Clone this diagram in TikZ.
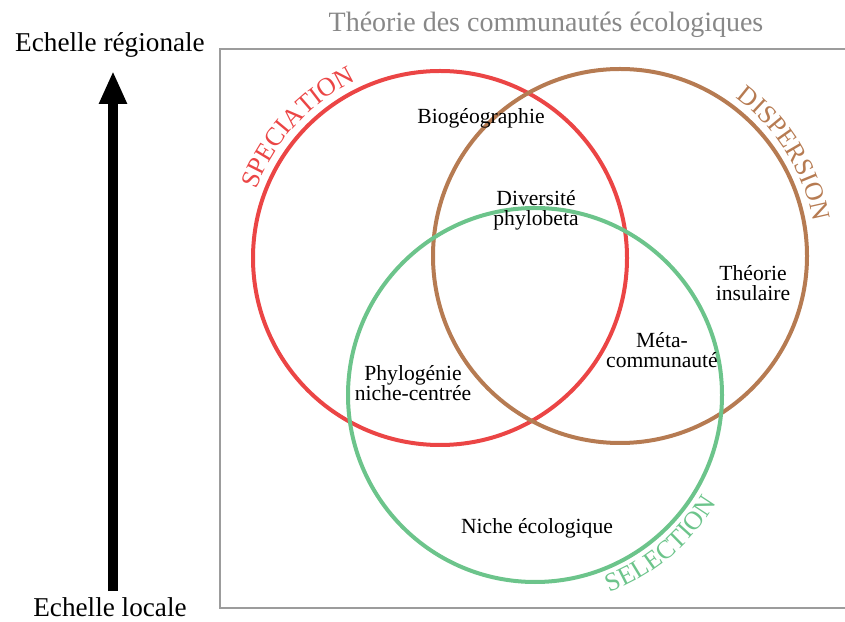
\documentclass[tikz,border=0pt]{standalone}
\usepackage{fontspec}
\setmainfont{Liberation Serif}
\usetikzlibrary{arrows.meta,decorations.text}
\definecolor{specred}{HTML}{EB4545}
\definecolor{dispbrown}{HTML}{B67B52}
\definecolor{selgreen}{HTML}{6CC48B}
\definecolor{framegray}{HTML}{9C9C9C}
\definecolor{titlegray}{HTML}{888888}
\tikzset{
  zone/.style={align=center, font=\fontsize{10.8}{10}\selectfont},
  echelle/.style={font=\fontsize{13.6}{16}\selectfont},
  ring/.style={circle, draw, line width=2pt, minimum size=187pt, inner sep=0pt},
  curved/.style={decorate, decoration={text along path, text align=center,
    text color=#1, text={|\fontsize{13}{13}\selectfont|}}},
}
\begin{document}
\begin{tikzpicture}[x=0.5pt,y=0.5pt]
  \useasboundingbox (0,0) rectangle (845,621);
  % cadre
  \draw[framegray, line width=1pt] (845,572) -- (220,572) -- (220,13) -- (845,13);
  \node[titlegray, font=\fontsize{14}{16}\selectfont] (titre) at (546,596)
    {Théorie des communautés écologiques};
  % echelle
  \node[echelle] (regionale) at (110,576) {Echelle régionale};
  \node[echelle] (locale) at (110,14) {Echelle locale};
  \coordinate (bas) at (113,30);
  \coordinate (haut) at (113,550);
  \draw[line width=5pt, -{Triangle[length=16.5pt,width=13pt]}] (bas) -- (haut);
  % cercles
  \node[ring, specred] (spec) at (440,363) {};
  \node[ring, dispbrown] (disp) at (620,365) {};
  \node[ring, selgreen] (sel) at (535,226) {};
  \begin{scope}[decoration={text along path, text align=center}]
    \path[decorate, decoration={text color=specred,
      text={|\fontsize{13}{13}\selectfont|SPECIATION}}]
      ([shift={(180:98pt)}]spec.center) arc[start angle=180, end angle=95, radius=98pt];
    \path[decorate, decoration={text color=dispbrown,
      text={|\fontsize{13}{13}\selectfont|DISPERSION}}]
      ([shift={(75:98pt)}]disp.center) arc[start angle=75, end angle=-11, radius=98pt];
    \path[decorate, decoration={text color=selgreen,
      text={|\fontsize{13}{13}\selectfont|SELECTION}}]
      ([shift={(-90:105.5pt)}]sel.center) arc[start angle=-90, end angle=-10, radius=105.5pt];
  \end{scope}
  % zones
  \node[zone] (biogeo) at (481,503) {Biogéographie};
  \node[zone] (phylobeta) at (536,411) {Diversité\\phylobeta};
  \node[zone] (insulaire) at (753,338) {Théorie\\insulaire};
  \node[zone] (meta) at (662,271) {Méta-\\communauté};
  \node[zone] (phylo) at (413,238) {Phylogénie\\niche-centrée};
  \node[zone] (niche) at (537,93) {Niche écologique};
\end{tikzpicture}
\end{document}
